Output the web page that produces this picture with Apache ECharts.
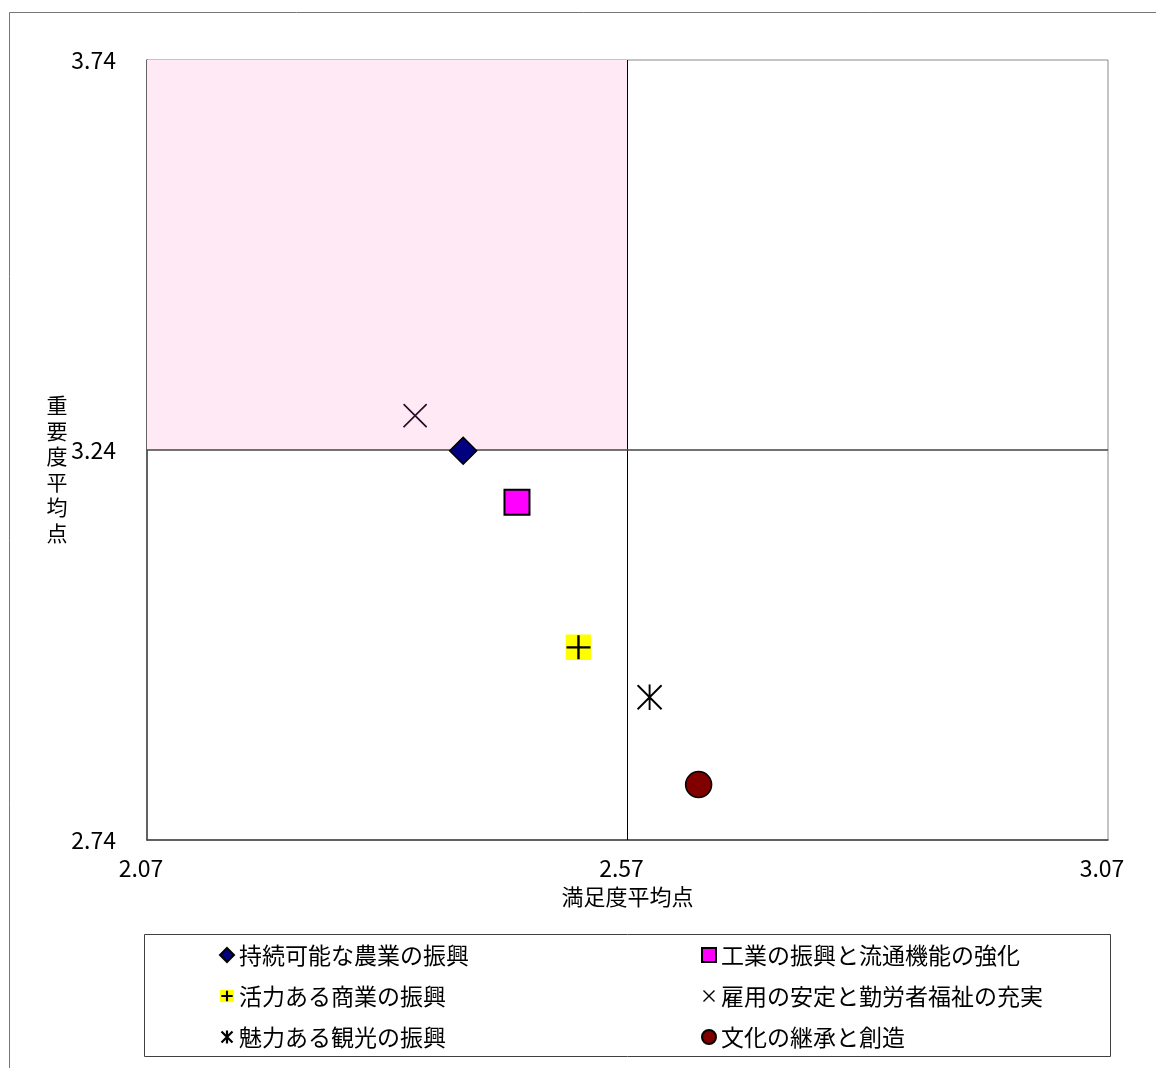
<!DOCTYPE html>
<html>
<head>
<meta charset="utf-8">
<script src="https://cdn.jsdelivr.net/npm/echarts@6/dist/echarts.min.js"></script>
<style>
  html, body { margin: 0; padding: 0; background: #fff; }
  #chart { width: 1156px; height: 1068px; }
</style>
</head>
<body>
<div id="chart"></div>
<script>
// ---- data ----
const seriesNames = ['持続可能な農業の振興', '工業の振興と流通機能の強化', '活力ある商業の振興', '雇用の安定と勤労者福祉の充実', '魅力ある観光の振興', '文化の継承と創造'];
const satisfaction = [2.399, 2.455, 2.519, 2.349, 2.593, 2.644];   // 満足度平均点 (x)
const importance   = [3.239, 3.173, 2.987, 3.284, 2.923, 2.811];   // 重要度平均点 (y)
const xTicks = [2.07, 2.57, 3.07];
const yTicks = [2.74, 3.24, 3.74];
const xAverage = 2.57;
const yAverage = 3.24;
const xName = '満足度平均点';
const yName = '重要度平均点';

// ---- styling helpers ----
const FONT = '"Noto Sans CJK JP", "Noto Sans", sans-serif';
function svgImg(svg) { return 'image://data:image/svg+xml;charset=utf-8,' + encodeURIComponent(svg); }
const plusSym = svgImg('<svg xmlns="http://www.w3.org/2000/svg" width="26" height="26" viewBox="0 0 26 26"><rect width="26" height="26" fill="#FFFF00"/><path d="M13 1V25M1 13H25" stroke="#000" stroke-width="2.4" fill="none"/></svg>');
const xSym = svgImg('<svg xmlns="http://www.w3.org/2000/svg" width="26" height="26" viewBox="0 0 26 26"><path d="M1 1L25 25M25 1L1 25" stroke="#24122a" stroke-width="1.8" fill="none"/></svg>');
const astSym = svgImg('<svg xmlns="http://www.w3.org/2000/svg" width="26" height="26" viewBox="0 0 26 26"><path d="M1 1L25 25M25 1L1 25M13 0V26" stroke="#000" stroke-width="1.9" fill="none"/></svg>');
const plusIcon = svgImg('<svg xmlns="http://www.w3.org/2000/svg" width="16" height="16" viewBox="0 0 16 16"><rect x="0" y="1" width="16" height="14" fill="#FFFF00"/><path d="M8 2V14M1.5 8H14.5" stroke="#000" stroke-width="2.4" fill="none"/></svg>');
const xIcon = svgImg('<svg xmlns="http://www.w3.org/2000/svg" width="14" height="14" viewBox="0 0 14 14"><path d="M1.5 1.5L12.5 12.5M12.5 1.5L1.5 12.5" stroke="#000" stroke-width="1.4" fill="none"/></svg>');
const astIcon = svgImg('<svg xmlns="http://www.w3.org/2000/svg" width="14" height="14" viewBox="0 0 14 14"><path d="M1.5 1.5L12.5 12.5M12.5 1.5L1.5 12.5M7 0.5V13.5" stroke="#000" stroke-width="2.2" fill="none"/></svg>');

const markerStyles = [
  { symbol: 'diamond', symbolSize: 27, itemStyle: { color: '#000080', borderColor: '#000', borderWidth: 1.5, opacity: 1 } },
  { symbol: 'rect', symbolSize: 25, itemStyle: { color: '#FF00FF', borderColor: '#000', borderWidth: 2, opacity: 1 } },
  { symbol: plusSym, symbolSize: 26, itemStyle: { color: '#FFFF00', opacity: 1 } },
  { symbol: xSym, symbolSize: 25, itemStyle: { color: '#24122a', opacity: 1 } },
  { symbol: astSym, symbolSize: 26, itemStyle: { color: '#000', opacity: 1 } },
  { symbol: 'circle', symbolSize: 26, itemStyle: { color: '#800000', borderColor: '#000', borderWidth: 1.5, opacity: 1 } }
];
const legendIcons = [null, null, plusIcon, xIcon, astIcon, null];

const series = seriesNames.map((name, i) => Object.assign({
  name: name,
  type: 'scatter',
  z: 5,
  data: [[satisfaction[i], importance[i]]],
  emphasis: { disabled: true }
}, markerStyles[i]));

// quadrant helper series: shaded area + average lines
series.unshift({
  name: '_quadrant',
  type: 'scatter',
  z: 2,
  data: [],
  silent: true,
  markArea: {
    silent: true,
    itemStyle: { color: '#FFE9F5', opacity: 1 },
    data: [[{ xAxis: xTicks[0], yAxis: yAverage }, { xAxis: xAverage, yAxis: yTicks[2] }]]
  },
  markLine: {
    silent: true,
    symbol: 'none',
    label: { show: false },
    animation: false,
    data: [
      { xAxis: xAverage, lineStyle: { color: '#000', width: 1, type: 'solid', opacity: 1 } },
      { yAxis: yAverage, lineStyle: { color: '#444', width: 1.5, type: 'solid', opacity: 1 } }
    ]
  }
});

function legendData(idx) {
  return idx.map(i => legendIcons[i] ? { name: seriesNames[i], icon: legendIcons[i] } : { name: seriesNames[i] });
}
const legendCommon = {
  orient: 'vertical',
  top: 938,
  itemWidth: 14,
  itemHeight: 14,
  itemGap: 17,
  selectedMode: false,
  textStyle: { fontSize: 23, lineHeight: 24, color: '#000', fontFamily: FONT }
};

const option = {
  animation: false,
  backgroundColor: '#fff',
  textStyle: { fontFamily: FONT },
  grid: { left: 147, right: 48, top: 60, bottom: 228, show: true, borderColor: '#8a8a8a', borderWidth: 1, backgroundColor: 'transparent' },
  xAxis: {
    type: 'value', min: xTicks[0], max: xTicks[2],
    name: xName, nameLocation: 'middle', nameGap: 46,
    nameTextStyle: { fontSize: 22, color: '#000', fontFamily: FONT },
    axisLine: { show: true, lineStyle: { color: '#404040', width: 1.5 } },
    axisTick: { show: false },
    splitLine: { show: false },
    axisLabel: { customValues: xTicks, formatter: v => v.toFixed(2), fontSize: 23, color: '#000', margin: 17, padding: [0, 12, 0, 0], fontFamily: FONT }
  },
  yAxis: {
    type: 'value', min: yTicks[0], max: yTicks[2],
    axisLine: { show: true, lineStyle: { color: '#404040', width: 1.5 } },
    axisTick: { show: false },
    splitLine: { show: false },
    axisLabel: { customValues: yTicks, formatter: v => v.toFixed(2), fontSize: 23, color: '#000', margin: 31, fontFamily: FONT }
  },
  legend: [
    Object.assign({ left: 214, data: legendData([0, 2, 4]) }, legendCommon),
    Object.assign({ left: 696, data: legendData([1, 3, 5]) }, legendCommon)
  ],
  graphic: [
    { type: 'rect', silent: true, z: -10, shape: { x: 9.5, y: 12.5, width: 1200, height: 1100 }, style: { fill: 'none', stroke: '#777', lineWidth: 1 } },
    { type: 'rect', silent: true, shape: { x: 144.5, y: 934.5, width: 966, height: 122 }, style: { fill: 'none', stroke: '#404040', lineWidth: 1 } },
    { type: 'text', silent: true, x: 57, y: 469, style: { text: yName.split('').join('\n'), textAlign: 'center', textVerticalAlign: 'middle', fontSize: 21, lineHeight: 25.5, fill: '#000', fontFamily: FONT } }
  ],
  series: series
};

const chart = echarts.init(document.getElementById('chart'), null, { renderer: 'canvas' });
chart.setOption(option);
</script>
</body>
</html>
